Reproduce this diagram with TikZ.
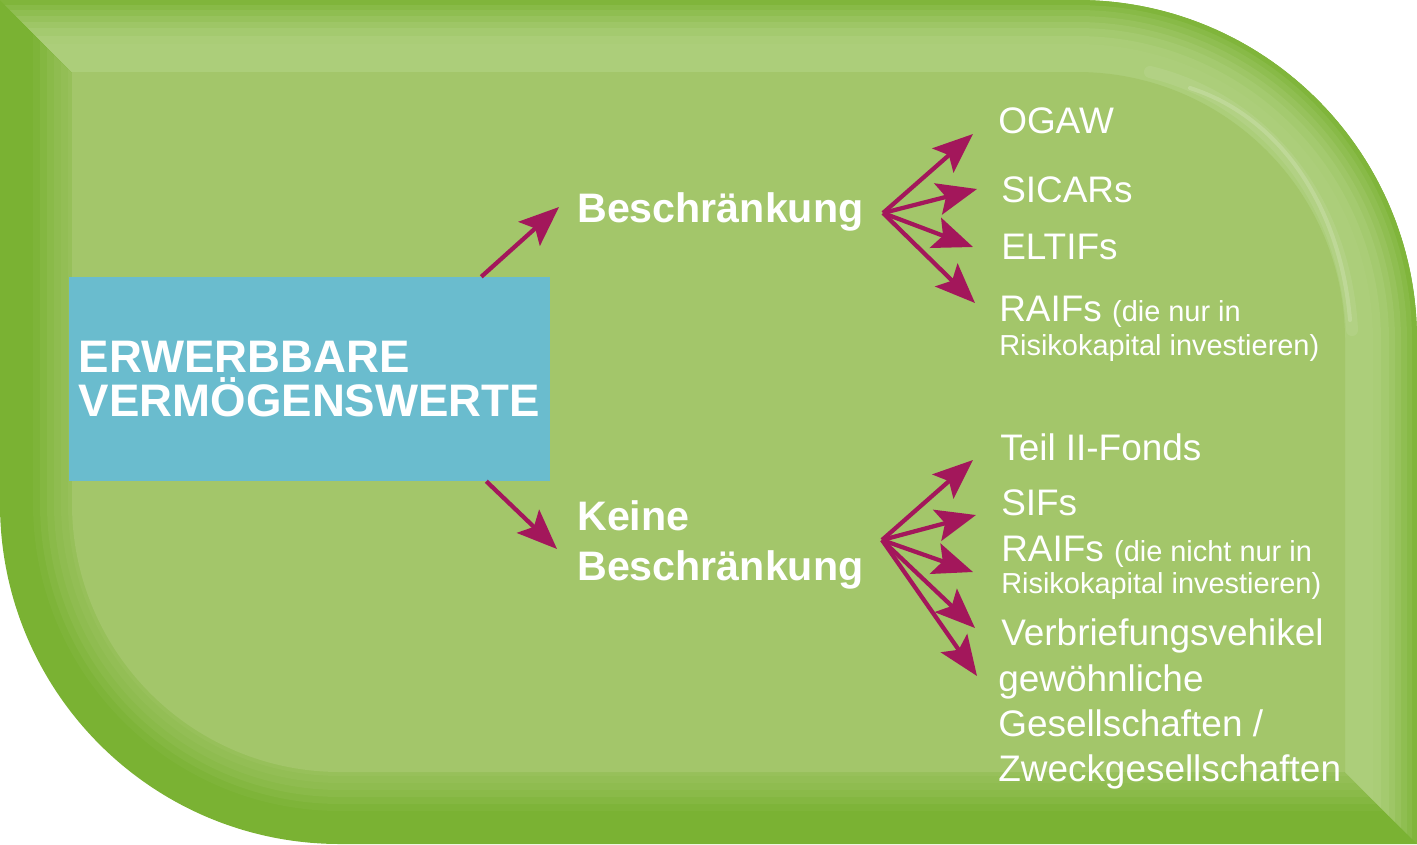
\documentclass[tikz,border=0pt]{standalone}
\usepackage{fontspec}
\setmainfont{Liberation Sans}
\usetikzlibrary{arrows.meta}

\definecolor{rimgreen}{RGB}{122,178,51}
\definecolor{facegreen}{RGB}{163,198,106}
\definecolor{litgreen}{RGB}{172,206,122}
\definecolor{boxblue}{RGB}{106,188,206}
\definecolor{arrowred}{RGB}{163,23,91}

% outline of the green panel, inset by #1
\newcommand{\panelpath}[1]{(#1,#1) -- (1077,#1) arc[start angle=-90,end angle=0,radius=340-#1] -- (1417-#1,844-#1) -- (340,844-#1) arc[start angle=90,end angle=180,radius=340-#1] -- cycle}
\newcommand{\smallsz}{\fontsize{21.7}{26}\selectfont}

\tikzset{
  assetbox/.style={fill=boxblue, text=white, inner sep=0pt, minimum width=360.75pt, minimum height=153pt,
    align=left, font=\fontsize{34.2}{32.3}\selectfont\bfseries},
  headtext/.style={text=white, inner sep=0pt, anchor=base west, font=\fontsize{30.9}{37}\selectfont\bfseries},
  itemtext/.style={text=white, inner sep=0pt, anchor=base west, font=\fontsize{27.7}{34}\selectfont},
  flowarrow/.style={draw=arrowred, line width=3.2pt, -{Stealth[length=30pt,width=24pt,inset=6pt,fill=arrowred]}}
}

\begin{document}
\begin{tikzpicture}[x=0.75pt,y=0.75pt,yscale=-1,xscale=1]
\useasboundingbox (0,0) rectangle (1417,844);

%Panel, dark side of the bevel
\foreach \d/\m in {0/0,33/10,40/25,47/40,54/52,61/62,68/70}
  \fill[facegreen!\m!rimgreen] \panelpath{\d};
%Panel, lit side of the bevel
\begin{scope}
  \clip (0,0) -- (72,72) -- (1345,772) -- (1417,844) -- (1417,0) -- cycle;
  \foreach \d/\m in {0/12,5/28,10/42,16/58,22/72,28/85,36/95,44/100}
    \fill[litgreen!\m!rimgreen] \panelpath{\d};
\end{scope}
%Panel face
\fill[facegreen] \panelpath{72};
%Gloss
\draw[white, opacity=.08, line width=9pt, line cap=round] (1150,72) .. controls (1265,100) and (1345,200) .. (1352,330);
\draw[white, opacity=.16, line width=3pt, line cap=round] (1190,88) .. controls (1275,115) and (1340,200) .. (1350,320);

%Source box
\node[assetbox] (assets) at (309.5,379) {ERWERBBARE\\VERMÖGENSWERTE};

%Headings
\node[headtext] (restr) at (577,222) {Beschränkung};
\node[headtext] (norestrA) at (577,530) {Keine};
\node[headtext] (norestrB) at (577,580) {Beschränkung};

%Items, upper group
\node[itemtext] (ogaw) at (998,133) {OGAW};
\node[itemtext] (sicar) at (1001,202) {SICARs};
\node[itemtext] (eltif) at (1001,259) {ELTIFs};
\node[itemtext] (raifA) at (999,321) {RAIFs \smallsz(die nur in};
\node[itemtext, font=\smallsz] (raifAb) at (999,355) {Risikokapital investieren)};

%Items, lower group
\node[itemtext] (teil) at (1000,460) {Teil II-Fonds};
\node[itemtext] (sif) at (1001,515) {SIFs};
\node[itemtext] (raifB) at (1001,561) {RAIFs \smallsz(die nicht nur in};
\node[itemtext, font=\smallsz] (raifBb) at (1001,593) {Risikokapital investieren)};
\node[itemtext] (verb) at (1001,645) {Verbriefungsvehikel};
\node[itemtext] (gew) at (998,691) {gewöhnliche};
\node[itemtext] (ges) at (998,736) {Gesellschaften /};
\node[itemtext] (zweck) at (998,781) {Zweckgesellschaften};

%Arrows from the box
\path (assets.north east) ++(-69,0) coordinate (upstart);
\path (assets.south east) ++(-64,0) coordinate (downstart);
\coordinate (uptip) at (559,207);
\coordinate (downtip) at (557,549);
\draw[flowarrow] (upstart) -- (uptip);
\draw[flowarrow] (downstart) -- (downtip);

%Fans
\coordinate (fanup) at (883,213);
\coordinate (fandown) at (882,540);
\foreach \x/\y [count=\i] in {973/134,977/189,973/247,975/303}
  \coordinate (tipA\i) at (\x,\y);
\foreach \x/\y [count=\i] in {973/460,976/515,973/572,975/628,977/676}
  \coordinate (tipB\i) at (\x,\y);
\foreach \i in {1,...,4}
  \draw[flowarrow] (fanup) -- (tipA\i);
\foreach \i in {1,...,5}
  \draw[flowarrow] (fandown) -- (tipB\i);

\end{tikzpicture}
\end{document}
